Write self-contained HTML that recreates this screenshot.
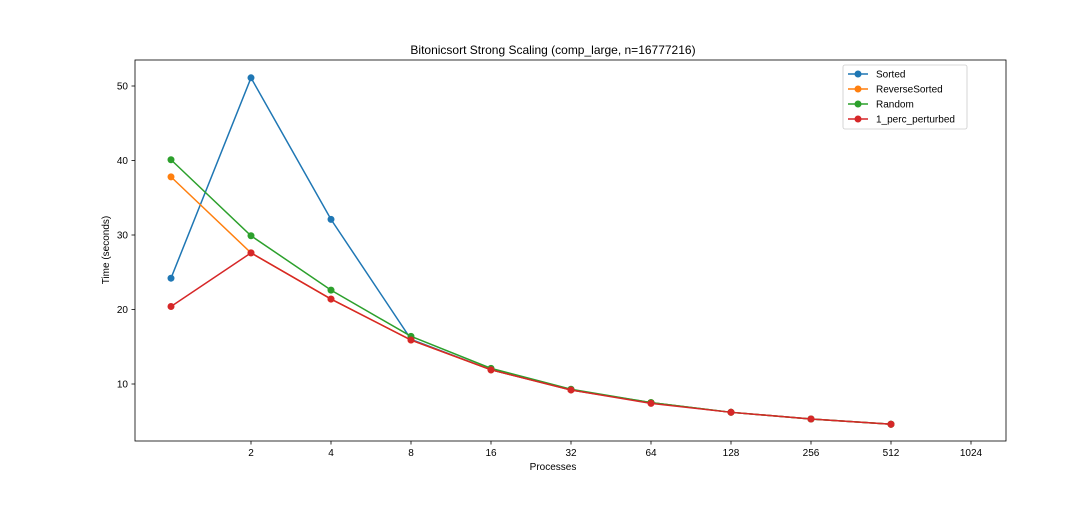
<!DOCTYPE html>
<html><head><meta charset="utf-8"><style>
body{margin:0;background:#fff;}
svg text{font-family:"Liberation Sans","DejaVu Sans",sans-serif;fill:#000;}
</style></head><body>
<svg id="chart" width="1080" height="504" xmlns="http://www.w3.org/2000/svg">
<rect width="1080" height="504" fill="#fff"/>
<text x="553" y="54" font-size="12" text-anchor="middle">Bitonicsort Strong Scaling (comp_large, n=16777216)</text>
<g id="plot"></g>
<rect x="135" y="60" width="871" height="381" fill="none" stroke="#000" stroke-width="0.8"/>
<text x="553" y="470" font-size="10" text-anchor="middle">Processes</text>
<text x="109" y="250" font-size="10" text-anchor="middle" transform="rotate(-90 109 250)">Time (seconds)</text>
<g id="legend"></g>
</svg>
<script>
const procs=[1,2,4,8,16,32,64,128,256,512];
const xTicks=[2,4,8,16,32,64,128,256,512,1024];
const yTicks=[10,20,30,40,50];
const seriesNames=["Sorted","ReverseSorted","Random","1_perc_perturbed"];
const colors=["#1f77b4","#ff7f0e","#2ca02c","#d62728"];
const sorted=[24.2,51.1,32.1,16.0,11.9,9.2,7.5,6.2,5.3,4.6];
const reverseSorted=[37.8,27.6,21.4,15.9,11.9,9.2,7.5,6.2,5.3,4.6];
const random=[40.1,29.9,22.6,16.4,12.1,9.3,7.5,6.2,5.3,4.6];
const perturbed=[20.4,27.6,21.4,15.9,11.9,9.2,7.4,6.2,5.3,4.6];
const allSeries=[sorted,reverseSorted,random,perturbed];
const NS="http://www.w3.org/2000/svg";
function X(v){return 171+80*Math.log2(v);}
function Y(v){return 458.5-7.45*v;}
const plot=document.getElementById('plot');
function mk(tag,attrs,parent){const e=document.createElementNS(NS,tag);for(const k in attrs)e.setAttribute(k,attrs[k]);parent.appendChild(e);return e;}
xTicks.forEach(t=>{
  const l=mk('line',{x1:X(t),x2:X(t),y1:441,y2:444.5,stroke:'#000','stroke-width':0.8},plot);
  
  
  const tx=mk('text',{x:X(t),y:456,'font-size':10,'text-anchor':'middle'},plot);tx.textContent=t;
  
  
});
yTicks.forEach(t=>{
  const l=mk('line',{x1:131.5,x2:135,y1:Y(t),y2:Y(t),stroke:'#000','stroke-width':0.8},plot);
  
  
  const tx=mk('text',{x:128,y:Y(t)+3.5,'font-size':10,'text-anchor':'end'},plot);tx.textContent=t;
  
  
});
allSeries.forEach((s,i)=>{
  const pts=s.map((v,j)=>X(procs[j])+','+Y(v)).join(' ');
  const pl=mk('polyline',{points:pts,fill:'none',stroke:colors[i],'stroke-width':1.5},plot);
  
  
  s.forEach((v,j)=>{
    const c=mk('circle',{cx:X(procs[j]),cy:Y(v),r:3.5,fill:colors[i]},plot);
    
    
  });
});
const lg=document.getElementById('legend');
const box=mk('rect',{x:843,y:65,width:124,height:64,rx:2,fill:'#fff',stroke:'#ccc','stroke-width':0.8},lg);


seriesNames.forEach((n,i)=>{
  const y=74+i*15;
  const g=mk('g',{},lg);
  
  
  mk('line',{x1:848,x2:868,y1:y,y2:y,stroke:colors[i],'stroke-width':1.5},g);
  mk('circle',{cx:858,cy:y,r:3.5,fill:colors[i]},g);
  const t=mk('text',{x:876,y:y+3.5,'font-size':10},g);t.textContent=n;
});
</script>
</body></html>
